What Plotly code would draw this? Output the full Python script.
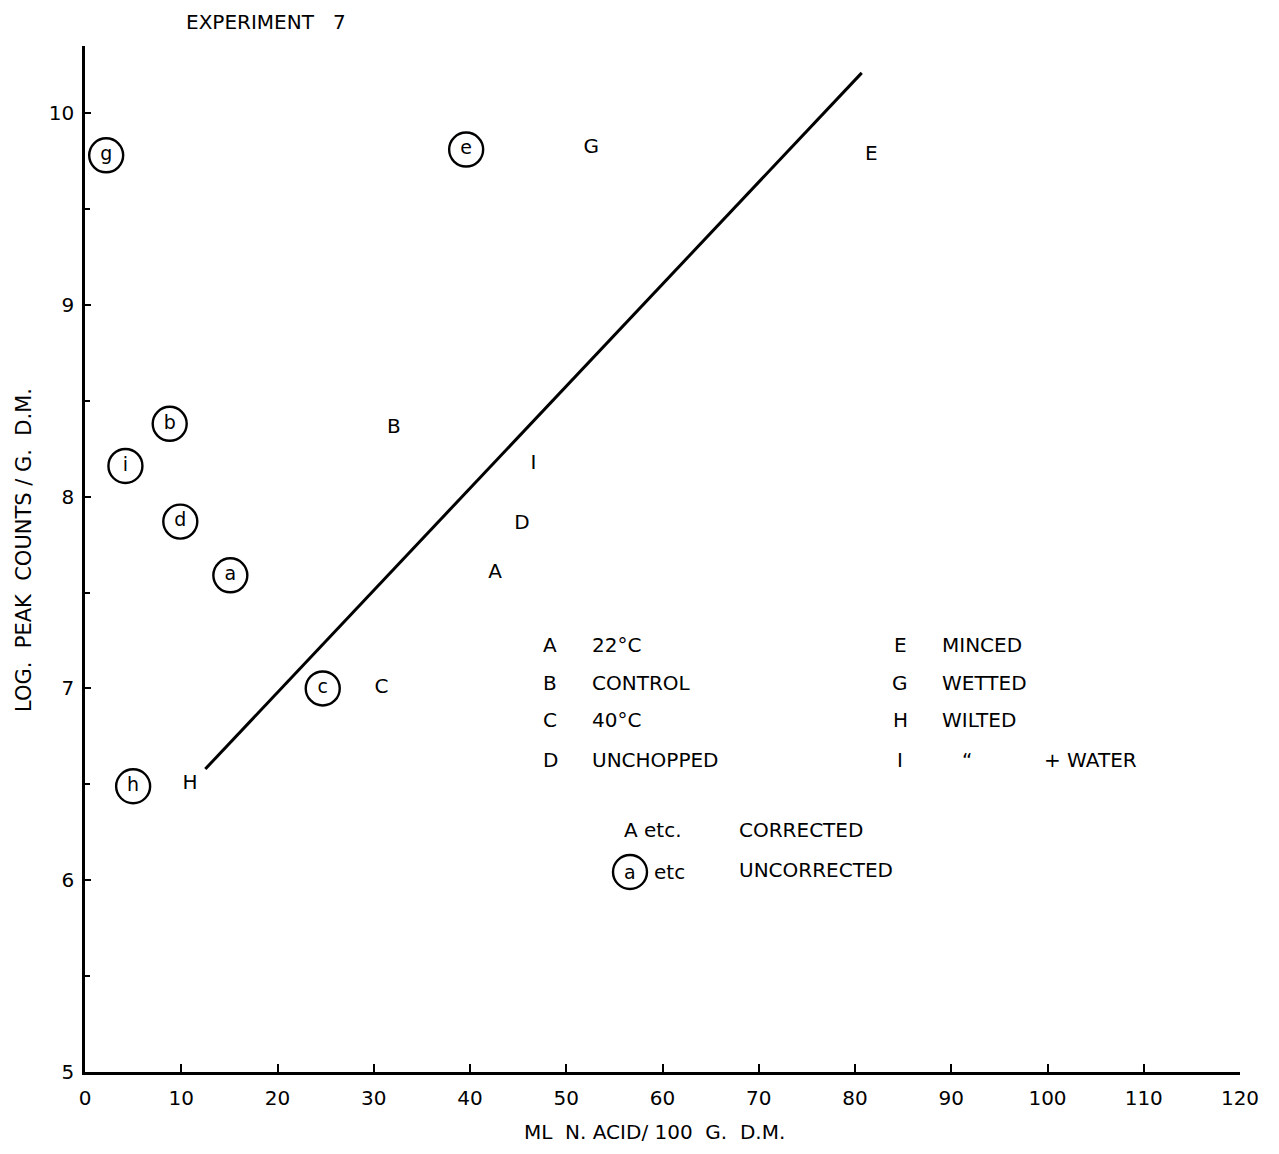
import plotly.graph_objects as go

# ---- data ----
corr_labels = ["A", "B", "C", "D", "E", "G", "H", "I"]
corr_x = [42.6, 32.1, 30.8, 45.4, 81.7, 52.6, 10.9, 46.6]
corr_y = [7.60, 8.36, 7.00, 7.86, 9.78, 9.82, 6.50, 8.17]

unc_labels = ["a", "b", "c", "d", "e", "g", "h", "i"]
unc_x = [15.1, 8.8, 24.7, 9.9, 39.6, 2.2, 5.0, 4.2]
unc_y = [7.59, 8.38, 7.00, 7.87, 9.81, 9.78, 6.49, 8.16]

line_x = [12.5, 80.7]
line_y = [6.58, 10.21]

x_ticks = [0, 10, 20, 30, 40, 50, 60, 70, 80, 90, 100, 110, 120]
y_ticks = [5, 6, 7, 8, 9, 10]

legend_left = [("A", "22°C"), ("B", "CONTROL"), ("C", "40°C"), ("D", "UNCHOPPED")]
legend_right = [("E", "MINCED"), ("G", "WETTED"), ("H", "WILTED"), ("I", "+ WATER")]

FONT = "DejaVu Sans"
OFF = 8  # page body margin in the browser
SW, SH = 1279, 1154  # screenshot size
W, H = SW - 2 * OFF, SH - 2 * OFF
# plot area in screenshot pixels
PL, PR, PT, PB = 85, 1240, 46, 1072
L, T = PL - OFF, PT - OFF
R, B = W - (PR - OFF), H - (PB - OFF)
PW, PH = PR - PL, PB - PT


def px(xp):
    return (xp - PL) / PW


def py(yp):
    return (PB - yp) / PH


fig = go.Figure()

fig.add_trace(go.Scatter(x=line_x, y=line_y, mode="lines",
                         line=dict(color="black", width=3), showlegend=False))

fig.add_trace(go.Scatter(x=corr_x, y=corr_y, mode="text", text=corr_labels,
                         textfont=dict(family=FONT, size=20, color="black"),
                         textposition="middle center", showlegend=False))

fig.add_trace(go.Scatter(x=unc_x, y=unc_y, mode="markers+text", text=unc_labels,
                         marker=dict(symbol="circle-open", size=34,
                                     line=dict(color="black", width=2.4), color="black"),
                         textfont=dict(family=FONT, size=19, color="black"),
                         textposition="middle center", showlegend=False))

ann = []


def txt(x, y, s, size=20, anchor="left"):
    ann.append(dict(x=px(x), y=py(y), xref="paper", yref="paper", text=s,
                    showarrow=False, xanchor=anchor, yanchor="middle",
                    font=dict(family=FONT, size=size, color="black")))


ys = [645, 683, 720, 760]
for (k, v), yy in zip(legend_left, ys):
    txt(550, yy, k, anchor="center")
    txt(590, yy, v)
for (k, v), yy in zip(legend_right, ys):
    txt(900, yy, k, anchor="center")
    if k == "I":
        txt(967, yy, "\u201c", anchor="center")
        txt(1042, yy, v)
    else:
        txt(940, yy, v)

txt(622, 830, "A etc.")
txt(737, 830, "CORRECTED")
txt(630, 872, "a", size=19, anchor="center")
txt(652, 872, "etc")
txt(737, 870, "UNCORRECTED")

# title & axis titles
txt(266, 22, "EXPERIMENT   7", anchor="center")
ann.append(dict(x=px(654), y=py(1132), xref="paper", yref="paper",
                text="ML  N. ACID/ 100  G.  D.M.", showarrow=False,
                xanchor="center", yanchor="middle",
                font=dict(family=FONT, size=20, color="black")))
ann.append(dict(x=px(24), y=py(550), xref="paper", yref="paper",
                text="LOG.  PEAK  COUNTS / G.  D.M.", showarrow=False,
                textangle=-90, xanchor="center", yanchor="middle",
                font=dict(family=FONT, size=21, color="black")))

fig.update_layout(
    width=W, height=H,
    margin=dict(l=L, r=R, t=T, b=B),
    paper_bgcolor="white", plot_bgcolor="white",
    annotations=ann,
    shapes=[dict(type="circle", xref="paper", yref="paper",
                 xsizemode="pixel", ysizemode="pixel",
                 xanchor=px(630), yanchor=py(872),
                 x0=-17, x1=17, y0=-17, y1=17,
                 line=dict(color="black", width=2.4))],
    xaxis=dict(range=[0, 120], tickvals=x_ticks, ticks="inside", ticklen=8,
               tickwidth=1.5, tickcolor="black", showline=True, linecolor="black",
               linewidth=2.5, showgrid=False, zeroline=False,
               tickfont=dict(family=FONT, size=20, color="black"),
               ticklabelstandoff=6),
    yaxis=dict(range=[5, 10.35], tickvals=y_ticks, ticks="inside", ticklen=6,
               tickwidth=2, tickcolor="black", showline=True, linecolor="black",
               linewidth=2.5, showgrid=False, zeroline=False,
               tickfont=dict(family=FONT, size=20, color="black"),
               minor=dict(tickvals=[5.5, 6.5, 7.5, 8.5, 9.5], ticks="inside",
                          ticklen=5, tickcolor="black", tickwidth=1.5, showgrid=False),
               ticklabelstandoff=4),
)

fig.write_html("out.html")
